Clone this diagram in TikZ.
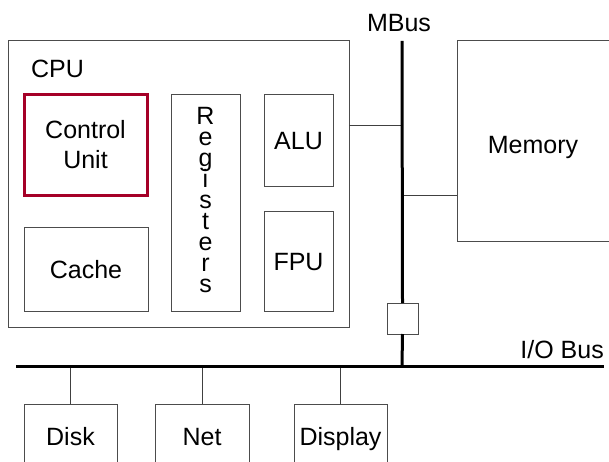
\documentclass[tikz,border=0pt]{standalone}
\usepackage{fontspec}
\setmainfont{Liberation Sans}
\definecolor{cured}{RGB}{165,0,40}
\newcommand\regfont{\fontsize{25}{21}\selectfont\lineskiplimit=-20pt\relax}
\begin{document}
\begin{tikzpicture}[x=1pt,y=-1pt,
  box/.style={draw=black!70, line width=1pt, fill=white, inner sep=0pt, outer sep=0pt,
              font=\fontsize{25}{30}\selectfont, align=center},
  one/.style={text height=18pt, text depth=0pt},
  wire/.style={draw=black!75, line width=1pt},
  bus/.style={draw=black, line width=3pt},
  lbl/.style={font=\fontsize{25}{30}\selectfont, inner sep=0pt, anchor=base}
]
\useasboundingbox (0,0) rectangle (609,462);
% CPU
\node[box, minimum width=341pt, minimum height=286pt] (cpu) at (178.5,184) {};
\node[lbl] (cpul) at (57.5,78) {CPU};
\node[box, draw=cured, line width=3pt, minimum width=123pt, minimum height=101pt] (cu) at (85.5,145) {Control\\Unit};
\node[box, one, minimum width=124pt, minimum height=84pt] (cache) at (86,269) {Cache};
\node[box, minimum width=69pt, minimum height=216pt, text depth=6pt,
      font=\regfont] (reg) at (205.5,203) {R\\e\\g\\i\\s\\t\\e\\r\\s};
\node[box, one, minimum width=69pt, minimum height=92pt] (alu) at (298.5,141) {ALU};
\node[box, one, minimum width=69pt, minimum height=100pt] (fpu) at (298.5,261) {FPU};
% Memory
\node[box, text height=26pt, text depth=0pt, minimum width=152pt, minimum height=200pt] (mem) at (533,141) {Memory};
% bus coordinates
\coordinate (mbtop) at (402,41);
\coordinate (m1) at (402,126);
\coordinate (m2) at (402,195);
\coordinate (iob) at (402,366);
\coordinate (iol) at (16,366);
\coordinate (ior) at (604,366);
\node[box, minimum width=31pt, minimum height=31pt] (sw) at (402.5,318.5) {};
% devices
\node[box, text height=16pt, text depth=0pt, minimum width=93pt, minimum height=66pt] (disk) at (70.5,437) {Disk};
\node[box, text height=16pt, text depth=0pt, minimum width=94pt, minimum height=66pt] (net) at (202,437) {Net};
\node[box, text height=16pt, text depth=0pt, minimum width=93pt, minimum height=66pt] (disp) at (340.5,437) {Display};
% wires
\draw[wire] (cpu.east |- m1) -- (m1);
\draw[wire] (m2) -- (m2 -| mem.west);
\draw[wire] (disk.north) -- (disk.north |- iob);
\draw[wire] (net.north) -- (net.north |- iob);
\draw[wire] (disp.north) -- (disp.north |- iob);
% buses
\draw[bus] (mbtop) -- (sw.north);
\draw[bus] (sw.south) -- (iob);
\draw[bus] (iol) -- (ior);
% labels
\node[lbl] (mbl) at (399,32) {MBus};
\node[lbl, anchor=base east] (iobl) at (604,358) {I/O Bus};
\end{tikzpicture}
\end{document}
